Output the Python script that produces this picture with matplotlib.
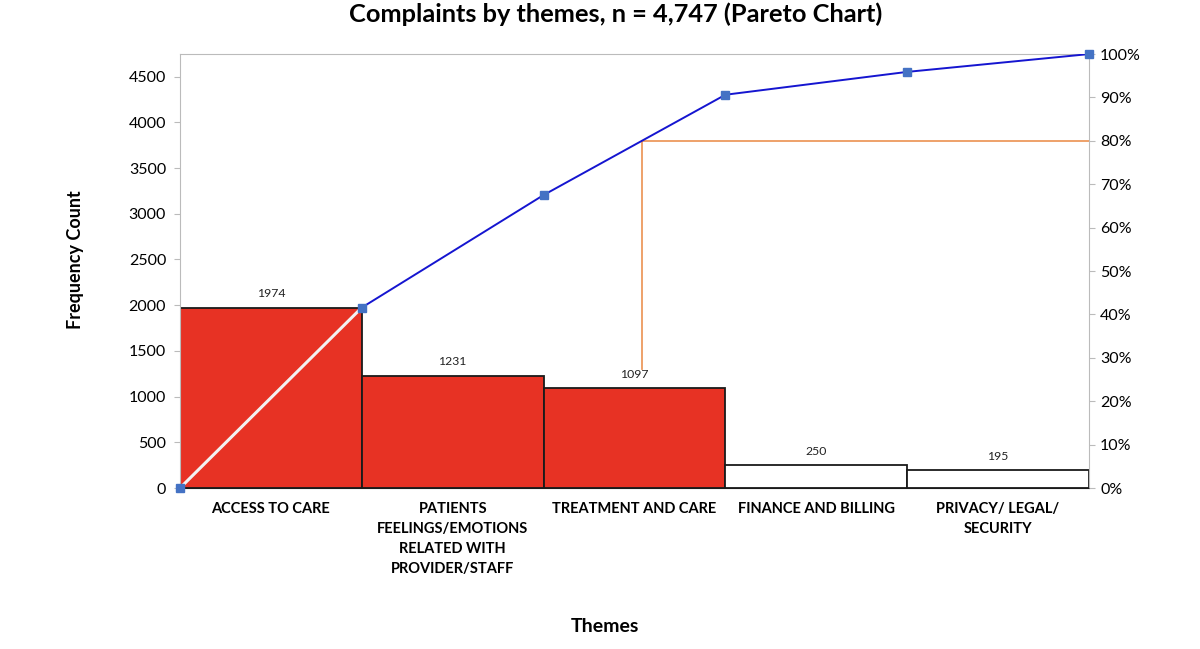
import numpy as np
import matplotlib
matplotlib.use('Agg')
import matplotlib.pyplot as plt
from matplotlib.ticker import PercentFormatter

plt.rcParams['font.family'] = ['Lato', 'DejaVu Sans']

themes = ['ACCESS TO CARE', 'PATIENTS\nFEELINGS/EMOTIONS\nRELATED WITH\nPROVIDER/STAFF',
          'TREATMENT AND CARE', 'FINANCE AND BILLING', 'PRIVACY/ LEGAL/\nSECURITY']
counts = [1974, 1231, 1097, 250, 195]
bar_colors = ['#E73224', '#E73224', '#E73224', 'white', 'white']
total = 4747
cutoff = 0.80
cutoff_low = 1300  # where the vertical orange line stops

cum = np.concatenate([[0], np.cumsum(counts)]) / total
edges = np.arange(len(counts) + 1)
centers = edges[:-1] + 0.5

fig = plt.figure(figsize=(12, 6.49), dpi=100)
ax = fig.add_axes([0.15, 0.248, 0.7575, 0.6687])

ax.bar(centers, counts, width=1.0, color=bar_colors, edgecolor='#1a1a1a', linewidth=1.3, zorder=2)
for c, v in zip(centers, counts):
    ax.text(c, v + 90, str(v), ha='center', va='bottom', fontsize=8.8, color='#222222')

ax.set_xlim(0, len(counts))
ax.set_ylim(0, total)
ax.set_yticks(np.arange(0, 4501, 500))
ax.set_xticks(centers)
ax.set_xticklabels(themes, fontsize=10.5, fontweight='bold', va='top', linespacing=1.55)
ax.tick_params(axis='x', length=0, pad=10)
ax.tick_params(axis='y', length=4, color='#bbbbbb', labelsize=11.5, pad=6)
for s in ax.spines.values():
    s.set_color('#bbbbbb')
ax.spines['bottom'].set_color('#1a1a1a')

fig.text(75 / 1200, 1 - 260 / 649, 'Frequency Count', rotation=90, ha='center', va='center',
         fontsize=13, fontweight='bold')
fig.text(605 / 1200, 1 - 627 / 649, 'Themes', ha='center', va='center',
         fontsize=14, fontweight='bold')

ax2 = ax.twinx()
ax2.set_ylim(0, 1)
ax2.set_yticks(np.arange(0, 1.01, 0.1))
ax2.yaxis.set_major_formatter(PercentFormatter(1.0, decimals=0))
ax2.tick_params(axis='y', length=4, color='#bbbbbb', labelsize=11.5, pad=4)
for s in ax2.spines.values():
    s.set_visible(False)

# pareto line
ax2.plot(edges[:2], cum[:2], color='#f2f2f2', linewidth=2.2, zorder=3)
ax2.plot(edges[1:], cum[1:], color='#1515D0', linewidth=1.4, zorder=3)
ax2.plot(edges, cum, linestyle='none', marker='s', markersize=6, color='#4472C4', zorder=4, clip_on=False)

# 80% cut line
x80 = np.interp(cutoff, cum, edges)
ax2.plot([x80, x80], [cutoff_low / total, cutoff], color='#ED9A5E', linewidth=1.3, zorder=2.5)
ax2.plot([x80, len(counts)], [cutoff, cutoff], color='#ED9A5E', linewidth=1.3, zorder=2.5)

fig.text(616 / 1200, 1 - 14 / 649, 'Complaints by themes, n = 4,747 (Pareto Chart)', ha='center', va='center',
         fontsize=18.3, fontweight='bold')

fig.savefig('out.png', dpi=100)
